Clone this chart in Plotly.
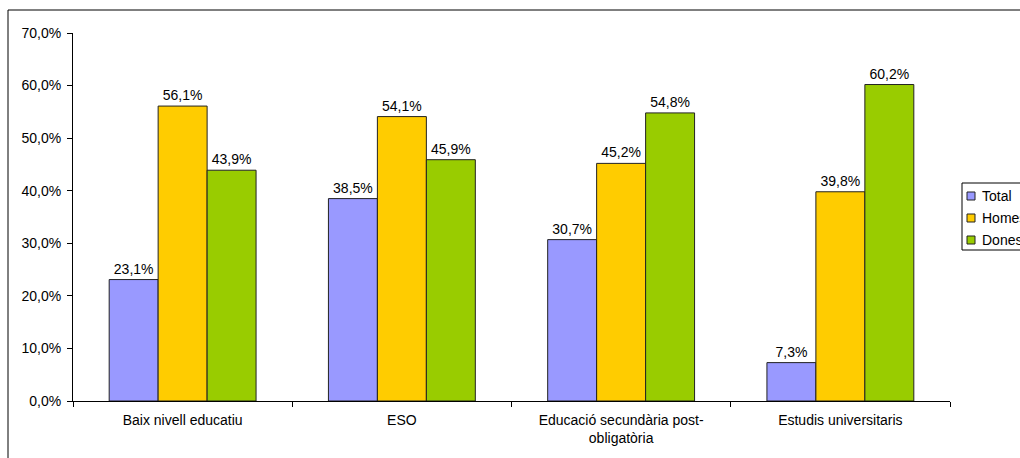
import plotly.graph_objects as go

categories = ["Baix nivell educatiu", "ESO", "Educació secundària post-<br>obligatòria", "Estudis universitaris"]
total = [23.1, 38.5, 30.7, 7.3]
homes = [56.1, 54.1, 45.2, 39.8]
dones = [43.9, 45.9, 54.8, 60.2]
series_names = ["Total", "Homes", "Dones"]
colors = ["#9999FF", "#FFCC00", "#99CC00"]
y_ticks = [0, 10, 20, 30, 40, 50, 60, 70]
y_ticktext = [f"{v:.1f}".replace(".", ",") + "%" for v in y_ticks]

FONT = "Liberation Sans, Arial, sans-serif"
FS = 14

W, H = 1020, 458

# desired plot area in screen pixels
SL, ST, SR, SB = 73, 33, 950, 401
L, T = SL, ST
R = W - SR
B = H - SB
pw = W - L - R
ph = H - T - B

def px(x):  # screen x -> paper
    return (x - L) / pw

def py(y):  # screen y -> paper
    return (H - B - y) / ph

fig = go.Figure()
for name, vals, col in zip(series_names, [total, homes, dones], colors):
    fig.add_trace(go.Bar(
        x=categories, y=vals, name=name,
        marker=dict(color=col, line=dict(color="#222222", width=1)),
        texttemplate="%{y:.1f}%", textposition="outside",
        textfont=dict(size=FS, color="#000000"),
        cliponaxis=False,
    ))

shapes = [dict(
    type="rect", xref="paper", yref="paper",
    x0=px(8), x1=px(1040), y0=py(480), y1=py(10),
    line=dict(color="#000000", width=1), fillcolor="rgba(0,0,0,0)",
    layer="below",
)]
# legend box (cut off at right edge as in the reference)
shapes.append(dict(
    type="rect", xref="paper", yref="paper",
    x0=px(962), x1=px(1040), y0=py(250), y1=py(183),
    line=dict(color="#000000", width=1), fillcolor="white", layer="above",
))
annotations = []
legend_y = [196, 218, 240]
for name, col, ly in zip(series_names, colors, legend_y):
    shapes.append(dict(
        type="rect", xref="paper", yref="paper",
        x0=px(967), x1=px(975), y0=py(ly + 4), y1=py(ly - 4),
        line=dict(color="#222222", width=1), fillcolor=col, layer="above",
    ))
    annotations.append(dict(
        xref="paper", yref="paper", x=px(980), y=py(ly),
        xanchor="left", yanchor="middle", text=name, showarrow=False,
        font=dict(size=FS, family=FONT, color="#000000"),
    ))

fig.update_layout(
    width=W, height=H,
    margin=dict(l=L, r=R, t=T, b=B, autoexpand=False),
    paper_bgcolor="white", plot_bgcolor="white",
    font=dict(family=FONT, size=FS, color="#000000"),
    separators=",.",
    barmode="group", bargap=0.33, bargroupgap=0,
    showlegend=False,
    xaxis=dict(
        showline=True, linecolor="#000000", linewidth=1,
        ticks="outside", ticklen=5, tickcolor="#000000",
        tickson="boundaries", showgrid=False, automargin=False,
        tickfont=dict(size=FS), ticklabelstandoff=6,
    ),
    yaxis=dict(
        range=[0, 70], tickvals=y_ticks, ticktext=y_ticktext,
        showline=True, linecolor="#000000", linewidth=1,
        ticks="outside", ticklen=5, tickcolor="#000000",
        showgrid=False, zeroline=False, automargin=False,
        tickfont=dict(size=FS), ticklabelstandoff=3,
    ),
    shapes=shapes,
    annotations=annotations,
)

fig.write_html(
    "out.html",
    config={"displayModeBar": False},
    post_script="document.body.style.margin='0';document.body.style.overflow='hidden';",
)
